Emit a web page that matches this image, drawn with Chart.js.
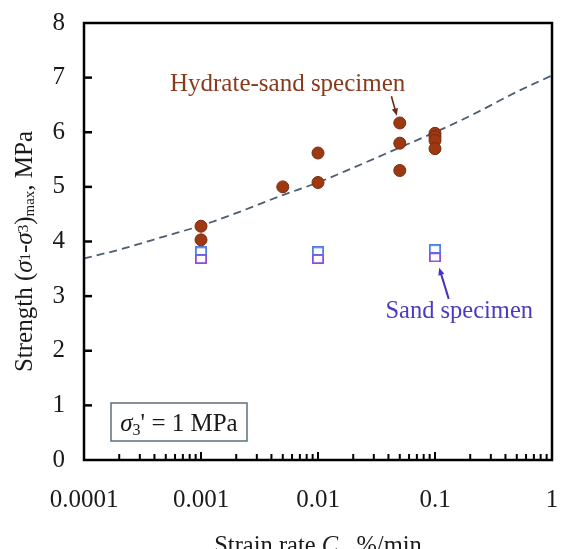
<!DOCTYPE html>
<html><head><meta charset="utf-8">
<script src="https://cdn.jsdelivr.net/npm/chart.js@4/dist/chart.umd.min.js"></script>
<style>html,body{margin:0;padding:0;background:#fff;}</style>
</head><body>
<canvas id="c" width="561" height="549"></canvas>
<script>
// ---- data ----
const xTickLabels = [0.0001, 0.001, 0.01, 0.1, 1];
const yTickLabels = [0, 1, 2, 3, 4, 5, 6, 7, 8];

const hydrateX = [0.001, 0.001, 0.005, 0.01, 0.01, 0.05, 0.05, 0.05, 0.1, 0.1, 0.1, 0.1];
const hydrateY = [4.28, 4.03, 5.00, 5.62, 5.08, 6.17, 5.80, 5.30, 5.98, 5.92, 5.85, 5.70];

const sandX = [0.001, 0.01, 0.1];
const sandUpperY = [3.82, 3.82, 3.86];
const sandLowerY = [3.68, 3.68, 3.71];

const trendX = [0.0001, 0.0002, 0.0005, 0.001, 0.002, 0.005, 0.01, 0.02, 0.05, 0.1, 0.2, 0.5, 1];
const trendY = [3.69, 3.85, 4.10, 4.29, 4.52, 4.85, 5.08, 5.35, 5.72, 6.00, 6.30, 6.74, 7.04];

const hydrateLabel = 'Hydrate-sand specimen';
const sandLabel = 'Sand specimen';

// ---- helpers ----
const SERIF = "'Liberation Serif', 'Times New Roman', serif";
function pts(xs, ys) { return xs.map((x, i) => ({x: x, y: ys[i]})); }

function rectMarker(color) {
  const c = document.createElement('canvas');
  c.width = 12; c.height = 10;
  const g = c.getContext('2d');
  g.strokeStyle = color; g.lineWidth = 1.7;
  g.strokeRect(0.9, 0.9, 10.2, 8.2);
  return c;
}

function drawRich(ctx, parts, x, y) {
  let total = 0;
  parts.forEach(p => { ctx.font = p.font; p.w = ctx.measureText(p.t).width; total += p.w; });
  let cx = x - total / 2;
  ctx.textAlign = 'left';
  ctx.textBaseline = 'alphabetic';
  parts.forEach(p => { ctx.font = p.font; ctx.fillText(p.t, cx, y + (p.dy || 0)); cx += p.w; });
}

function arrow(ctx, x1, y1, x2, y2, color, lw, head) {
  ctx.save();
  ctx.strokeStyle = color; ctx.fillStyle = color; ctx.lineWidth = lw;
  const a = Math.atan2(y2 - y1, x2 - x1);
  const hx = x2 - Math.cos(a) * head * 0.8, hy = y2 - Math.sin(a) * head * 0.8;
  ctx.beginPath(); ctx.moveTo(x1, y1); ctx.lineTo(hx, hy); ctx.stroke();
  ctx.beginPath();
  ctx.moveTo(x2, y2);
  ctx.lineTo(x2 - head * Math.cos(a - 0.4), y2 - head * Math.sin(a - 0.4));
  ctx.lineTo(x2 - head * Math.cos(a + 0.4), y2 - head * Math.sin(a + 0.4));
  ctx.closePath(); ctx.fill();
  ctx.restore();
}

const decoPlugin = {
  id: 'deco',
  afterDraw(chart) {
    const ctx = chart.ctx, a = chart.chartArea;
    const xs = chart.scales.x, ys = chart.scales.y;
    ctx.save();
    // frame
    ctx.strokeStyle = '#000'; ctx.lineWidth = 2.5;
    ctx.strokeRect(a.left, a.top, a.right - a.left, a.bottom - a.top);
    // inward y ticks
    ctx.lineWidth = 2.5;
    yTickLabels.forEach(v => {
      if (v === 0 || v === 8) return;
      const py = ys.getPixelForValue(v);
      ctx.beginPath(); ctx.moveTo(a.left, py); ctx.lineTo(a.left + 8, py); ctx.stroke();
    });
    // inward x ticks (log minor + decades)
    ctx.lineWidth = 2;
    for (let d = -4; d < 0; d++) {
      for (let m = 2; m <= 10; m++) {
        const v = m * Math.pow(10, d);
        if (v >= 1) continue;
        const px = xs.getPixelForValue(v);
        const len = (m === 10) ? 8 : 6;
        ctx.beginPath(); ctx.moveTo(px, a.bottom); ctx.lineTo(px, a.bottom - len); ctx.stroke();
      }
    }
    // axis titles
    ctx.fillStyle = '#1a1a1a';
    drawRich(ctx, [
      {t: 'Strain rate ', font: '24.5px ' + SERIF},
      {t: 'C', font: 'italic 24.5px ' + SERIF},
      {t: ' , %/min', font: '24.5px ' + SERIF}
    ], (a.left + a.right) / 2, 553);

    ctx.save();
    ctx.translate(32, (a.top + a.bottom) / 2 + 10);
    ctx.rotate(-Math.PI / 2);
    drawRich(ctx, [
      {t: 'Strength (', font: '25px ' + SERIF},
      {t: 'σ', font: 'italic 25px ' + SERIF},
      {t: '1', font: '15px ' + SERIF, dy: -2},
      {t: '-', font: '25px ' + SERIF},
      {t: 'σ', font: 'italic 25px ' + SERIF},
      {t: '3', font: '15px ' + SERIF, dy: -4},
      {t: ')', font: '25px ' + SERIF},
      {t: 'max', font: '15px ' + SERIF, dy: 2},
      {t: ', MPa', font: '25px ' + SERIF}
    ], 0, 0);
    ctx.restore();

    // legend-like box
    const bx = a.left + 27, by = a.bottom - 57, bw = 136, bh = 38;
    ctx.fillStyle = '#fff';
    ctx.fillRect(bx, by, bw, bh);
    ctx.strokeStyle = '#5d6f7d'; ctx.lineWidth = 1.5;
    ctx.strokeRect(bx, by, bw, bh);
    ctx.fillStyle = '#1a1a1a';
    drawRich(ctx, [
      {t: 'σ', font: 'italic 25px ' + SERIF},
      {t: '3', font: '16px ' + SERIF, dy: 4},
      {t: "' = 1 MPa", font: '25px ' + SERIF}
    ], bx + bw / 2, by + 28);

    // annotations
    ctx.fillStyle = '#8a3a1c';
    drawRich(ctx, [{t: hydrateLabel, font: '25px ' + SERIF}],
      xs.getPixelForValue(0.0055), ys.getPixelForValue(6.91) + 8);
    arrow(ctx, xs.getPixelForValue(0.0424), ys.getPixelForValue(6.66),
               xs.getPixelForValue(0.0472), ys.getPixelForValue(6.30), '#6e2a12', 1.6, 8);

    ctx.fillStyle = '#4a3cc0';
    drawRich(ctx, [{t: sandLabel, font: '24.5px ' + SERIF}],
      xs.getPixelForValue(0.161), ys.getPixelForValue(2.74) + 8);
    arrow(ctx, xs.getPixelForValue(0.131), ys.getPixelForValue(2.95),
               xs.getPixelForValue(0.1085), ys.getPixelForValue(3.52), '#4a30c0', 2, 8);
    ctx.restore();
  }
};

new Chart(document.getElementById('c'), {
  type: 'scatter',
  data: {
    datasets: [
      {
        label: 'trend',
        data: pts(trendX, trendY),
        showLine: true,
        borderColor: '#4d5c72',
        borderWidth: 1.8,
        borderDash: [8, 5],
        pointRadius: 0,
        cubicInterpolationMode: 'monotone',
        order: 3
      },
      {
        label: hydrateLabel,
        data: pts(hydrateX, hydrateY),
        pointRadius: 6,
        backgroundColor: '#9c3812',
        borderColor: '#7a2a0e',
        borderWidth: 1,
        order: 1
      },
      {
        label: sandLabel + ' (upper)',
        data: pts(sandX, sandUpperY),
        pointStyle: rectMarker('#4a78e6'),
        order: 2
      },
      {
        label: sandLabel + ' (lower)',
        data: pts(sandX, sandLowerY),
        pointStyle: rectMarker('#8a46d8'),
        order: 2
      }
    ]
  },
  options: {
    responsive: false,
    animation: false,
    devicePixelRatio: 1,
    layout: {padding: {top: 23, right: 9, left: 0, bottom: 0}},
    plugins: {legend: {display: false}, tooltip: {enabled: false}},
    scales: {
      x: {
        type: 'logarithmic',
        min: 0.0001, max: 1,
        afterBuildTicks: s => { s.ticks = xTickLabels.map(v => ({value: v, major: true})); },
        afterFit: s => { s.height = 89; s.paddingLeft = 0; s.paddingRight = 0; s.paddingTop = 0; s.paddingBottom = 0; },
        grid: {display: false, drawTicks: false},
        border: {display: false},
        ticks: {
          autoSkip: false, maxRotation: 0, padding: 25,
          color: '#1a1a1a',
          font: {family: SERIF, size: 25},
          callback: v => String(v)
        }
      },
      y: {
        min: 0, max: 8,
        afterBuildTicks: s => { s.ticks = yTickLabels.map(v => ({value: v})); },
        afterFit: s => { s.width = 84; s.paddingLeft = 0; s.paddingRight = 0; s.paddingTop = 0; s.paddingBottom = 0; },
        grid: {display: false, drawTicks: false},
        border: {display: false},
        ticks: {
          padding: 19,
          color: '#1a1a1a',
          font: {family: SERIF, size: 25},
          callback: v => String(v)
        }
      }
    }
  },
  plugins: [decoPlugin]
});
</script>
</body></html>
